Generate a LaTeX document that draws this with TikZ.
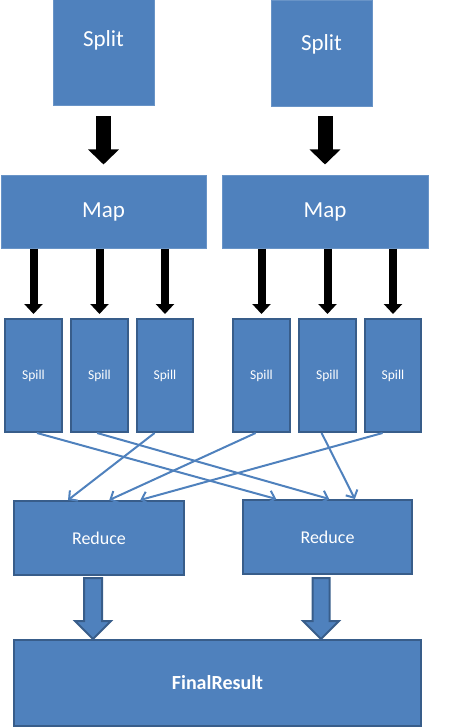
\documentclass[tikz,border=0pt]{standalone}
\usepackage{fontspec}
\setmainfont{Carlito}
\usetikzlibrary{arrows.meta,calc}

\newlength{\du}
\setlength{\du}{1pt}

\definecolor{boxfill}{rgb}{0.310000, 0.506000, 0.741000}
\definecolor{boxline}{rgb}{0.220000, 0.365000, 0.541000}

\tikzset{
  plainbox/.style={rectangle, fill=boxfill, draw=boxfill!85!white, line width=1\du, text=white, inner sep=0pt},
  edgebox/.style={rectangle, fill=boxfill, draw=boxline, line width=2\du, text=white, inner sep=0pt},
  fatarrow/.style={draw=black, line width=15\du, -{Triangle[length=15pt,width=30pt]}},
  slimarrow/.style={draw=black, line width=8\du, -{Triangle[length=10pt,width=18pt]}},
  spillarrow/.style={draw=boxfill, line width=2\du, -{Straight Barb[length=6pt,width=13pt]}},
  hollowarrow/.style={fill=boxfill, draw=boxline, line width=2\du, line join=miter},
}

\begin{document}
\begin{tikzpicture}
\pgftransformxscale{1.000000}
\pgftransformyscale{-1.000000}
\useasboundingbox (0\du,0\du) rectangle (460\du,727\du);
% splits
\node[plainbox, minimum width=101\du, minimum height=106\du, font=\fontsize{23}{23}\selectfont, text height=16\du, text depth=28\du] (sp1) at (103.5\du,53\du){Split};
\node[plainbox, minimum width=101\du, minimum height=106\du, font=\fontsize{23}{23}\selectfont, text height=16\du, text depth=22\du] (sp2) at (321.5\du,54\du){Split};
% maps
\node[plainbox, minimum width=205\du, minimum height=72\du, font=\fontsize{23}{23}\selectfont] (m1) at (103.5\du,212\du){Map};
\node[plainbox, minimum width=206\du, minimum height=72\du, font=\fontsize{23}{23}\selectfont] (m2) at (325\du,212\du){Map};
\draw[fatarrow, shorten <=10pt, shorten >=11pt] (sp1.south -| m1.north) -- (m1.north);
\draw[fatarrow, shorten <=9pt, shorten >=11pt] (sp2.south -| m2.north) -- (m2.north);
% spills
\node[edgebox, minimum width=57\du, minimum height=113\du, font=\fontsize{13.5}{13.5}\selectfont] (s1) at (33.5\du,375.5\du){Spill};
\node[edgebox, minimum width=57\du, minimum height=113\du, font=\fontsize{13.5}{13.5}\selectfont] (s2) at (99.5\du,375.5\du){Spill};
\node[edgebox, minimum width=56\du, minimum height=113\du, font=\fontsize{13.5}{13.5}\selectfont] (s3) at (165\du,375.5\du){Spill};
\node[edgebox, minimum width=57\du, minimum height=113\du, font=\fontsize{13.5}{13.5}\selectfont] (s4) at (261.5\du,375.5\du){Spill};
\node[edgebox, minimum width=57\du, minimum height=113\du, font=\fontsize{13.5}{13.5}\selectfont] (s5) at (327.5\du,375.5\du){Spill};
\node[edgebox, minimum width=56\du, minimum height=113\du, font=\fontsize{13.5}{13.5}\selectfont] (s6) at (393\du,375.5\du){Spill};
\draw[slimarrow, shorten >=4pt] (m1.south -| s1.north) -- (s1.north);
\draw[slimarrow, shorten >=4pt] (m1.south -| s2.north) -- (s2.north);
\draw[slimarrow, shorten >=4pt] (m1.south -| s3.north) -- (s3.north);
\draw[slimarrow, shorten >=4pt] (m2.south -| s4.north) -- (s4.north);
\draw[slimarrow, shorten >=4pt] (m2.south -| s5.north) -- (s5.north);
\draw[slimarrow, shorten >=4pt] (m2.south -| s6.north) -- (s6.north);
% reduces
\node[edgebox, minimum width=170\du, minimum height=74\du, font=\fontsize{18}{18}\selectfont] (r1) at (99\du,538\du){Reduce};
\node[edgebox, minimum width=169\du, minimum height=74\du, font=\fontsize{18}{18}\selectfont] (r2) at (327.5\du,537\du){Reduce};
\draw[spillarrow] ($(s1.south west)!0.56!(s1.south east)$) -- ($(r2.north west)!0.20!(r2.north east)$);
\draw[spillarrow] ($(s2.south west)!0.46!(s2.south east)$) -- ($(r2.north west)!0.51!(r2.north east)$);
\draw[spillarrow] ($(s3.south west)!0.32!(s3.south east)$) -- ($(r1.north west)!0.32!(r1.north east)$);
\draw[spillarrow] ($(s4.south west)!0.40!(s4.south east)$) -- ($(r1.north west)!0.56!(r1.north east)$);
\draw[spillarrow] ($(s5.south west)!0.40!(s5.south east)$) -- ($(r2.north west)!0.66!(r2.north east)$);
\draw[spillarrow] ($(s6.south west)!0.32!(s6.south east)$) -- ($(r1.north west)!0.74!(r1.north east)$);
% final result
\node[edgebox, minimum width=407\du, minimum height=86\du, font=\fontsize{20}{20}\selectfont\bfseries] (fin) at (217.5\du,683\du){FinalResult};
\draw[hollowarrow] ($(r1.south)+(-15\du,2\du)$) -- ++(18\du,0\du) -- ++(0\du,43\du) -- ++(9\du,0\du) -- ++(-18\du,18\du) -- ++(-18\du,-18\du) -- ++(9\du,0\du) -- cycle;
\draw[hollowarrow] ($(r2.south)+(-15\du,3\du)$) -- ++(17\du,0\du) -- ++(0\du,43\du) -- ++(9.5\du,0\du) -- ++(-18\du,18\du) -- ++(-18\du,-18\du) -- ++(9.5\du,0\du) -- cycle;
\end{tikzpicture}
\end{document}
